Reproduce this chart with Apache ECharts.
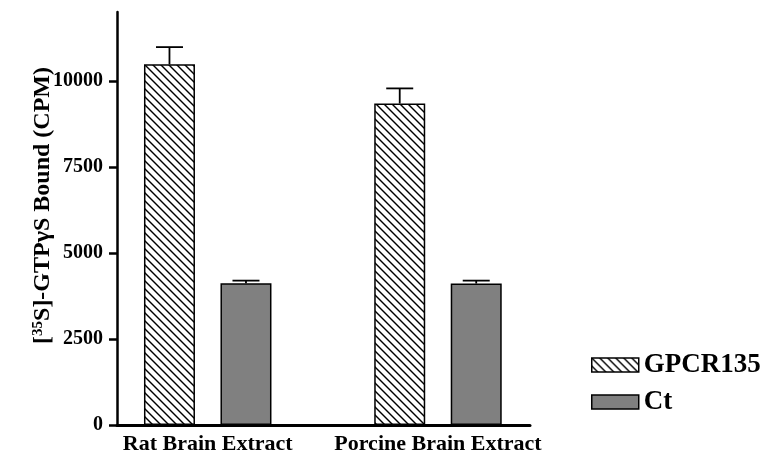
<!DOCTYPE html>
<html>
<head>
<meta charset="utf-8">
<script src="https://cdn.jsdelivr.net/npm/echarts@6/dist/echarts.min.js"></script>
<style>html,body{margin:0;padding:0;background:#fff;}#c{width:768px;height:457px;}</style>
</head>
<body>
<div id="c"></div>
<script>
var categories = ['Rat Brain Extract', 'Porcine Brain Extract'];
var seriesNames = ['GPCR135', 'Ct'];
var gpcrValues = [10480, 9340];
var gpcrErrors = [500, 440];
var ctValues = [4120, 4110];
var ctErrors = [75, 85];
var yTicks = [0, 2500, 5000, 7500, 10000];
var yMax = 12000;

var FONT = "'Liberation Serif', 'Times New Roman', serif";
var BAR_W = 51, BAR_GAP = 25.5;
var TOP = 12, BOTTOM = 32;
var PLOT_H = 457 - TOP - BOTTOM;
var lastTick = yTicks[yTicks.length - 1];
var tickGridTop = TOP + PLOT_H * (1 - lastTick / yMax);

function makeHatch() {
  var s = 8;
  var cv = document.createElement('canvas');
  cv.width = s; cv.height = s;
  var ctx = cv.getContext('2d');
  ctx.fillStyle = '#fff';
  ctx.fillRect(0, 0, s, s);
  ctx.strokeStyle = '#000';
  ctx.lineWidth = 1.4;
  [-s, 0, s].forEach(function (c) {
    ctx.beginPath();
    ctx.moveTo(-1, c - 1);
    ctx.lineTo(s + 1, s + c + 1);
    ctx.stroke();
  });
  return cv;
}
var hatch = makeHatch();

var errData = [];
categories.forEach(function (c, i) {
  errData.push([i, gpcrValues[i], gpcrErrors[i], -1]);
  errData.push([i, ctValues[i], ctErrors[i], 1]);
});

var chart = echarts.init(document.getElementById('c'), null, {renderer: 'canvas'});
chart.setOption({
  animation: false,
  backgroundColor: '#fff',
  grid: [
    {left: 117, right: 238, top: TOP, bottom: BOTTOM},
    {left: 92.6, right: 214.9, top: TOP, bottom: BOTTOM},
    {left: 117, right: 238, top: tickGridTop, bottom: BOTTOM}
  ],
  legend: {
    orient: 'vertical',
    left: 591, top: 351,
    padding: 0,
    icon: 'rect',
    itemWidth: 47, itemHeight: 14,
    itemGap: 9,
    data: seriesNames,
    textStyle: {fontFamily: FONT, fontWeight: 'bold', fontSize: 27, color: '#000', lineHeight: 28},
    itemStyle: {borderColor: '#000', borderWidth: 1.5}
  },
  xAxis: [
    {type: 'value', gridIndex: 0, min: 0, max: 1,
      axisLine: {show: true, onZero: false, lineStyle: {color: '#000', width: 3}},
      axisTick: {show: false}, axisLabel: {show: false}, splitLine: {show: false}},
    {type: 'category', gridIndex: 1, data: categories,
      axisLine: {show: false}, axisTick: {show: false},
      axisLabel: {interval: 0, margin: 8, fontFamily: FONT, fontWeight: 'bold', fontSize: 22, color: '#000'}},
    {type: 'value', gridIndex: 2, min: 0, max: 1, show: false, splitLine: {show: false}}
  ],
  yAxis: [
    {type: 'value', gridIndex: 0, min: 0, max: yMax,
      axisLine: {show: true, lineStyle: {color: '#000', width: 2.5}},
      axisTick: {show: false}, axisLabel: {show: false},
      splitLine: {show: false},
      name: '{sq|[}{sup|35}{t|S]-GTPγS Bound (CPM)}',
      nameLocation: 'middle', nameGap: 62, nameRotate: 90, nameMoveOverlap: false,
      nameTextStyle: {
        padding: [0, 0, 0, 26],
        rich: {
          sq: {fontFamily: FONT, fontWeight: 'bold', fontSize: 24, color: '#000'},
          sup: {fontFamily: FONT, fontWeight: 'bold', fontSize: 15, color: '#000', verticalAlign: 'top'},
          t: {fontFamily: FONT, fontWeight: 'bold', fontSize: 24, color: '#000'}
        }
      }},
    {type: 'value', gridIndex: 1, min: 0, max: yMax, show: false, splitLine: {show: false}},
    {type: 'value', gridIndex: 2, min: yTicks[0], max: lastTick, interval: yTicks[1] - yTicks[0],
      axisLine: {show: false},
      axisTick: {show: true, length: 8, lineStyle: {color: '#000', width: 2.5}},
      axisLabel: {margin: 14, fontFamily: FONT, fontWeight: 'bold', fontSize: 20, color: '#000',
        formatter: function (v) { return String(v); }},
      splitLine: {show: false}}
  ],
  series: [
    {name: seriesNames[0], type: 'bar', xAxisIndex: 1, yAxisIndex: 1, data: gpcrValues,
      barWidth: BAR_W, barGap: '50%',
      itemStyle: {color: {image: hatch, repeat: 'repeat'}, borderColor: '#000', borderWidth: 1.5}},
    {name: seriesNames[1], type: 'bar', xAxisIndex: 1, yAxisIndex: 1, data: ctValues,
      barWidth: BAR_W, barGap: '50%',
      itemStyle: {color: '#808080', borderColor: '#000', borderWidth: 1.5}},
    {type: 'custom', xAxisIndex: 1, yAxisIndex: 1, data: errData, z: 5,
      renderItem: function (params, api) {
        var cat = api.value(0), v = api.value(1), e = api.value(2), side = api.value(3);
        var off = side * (BAR_W + BAR_GAP) / 2;
        var p0 = api.coord([cat, v]);
        var p1 = api.coord([cat, v + e]);
        var x = p0[0] + off;
        var half = 13.5;
        return {type: 'group', children: [
          {type: 'line', shape: {x1: x, y1: p0[1], x2: x, y2: p1[1]}, style: {stroke: '#000', lineWidth: 1.8}},
          {type: 'line', shape: {x1: x - half, y1: p1[1], x2: x + half, y2: p1[1]}, style: {stroke: '#000', lineWidth: 1.8}}
        ]};
      }}
  ]
});
</script>
</body>
</html>
